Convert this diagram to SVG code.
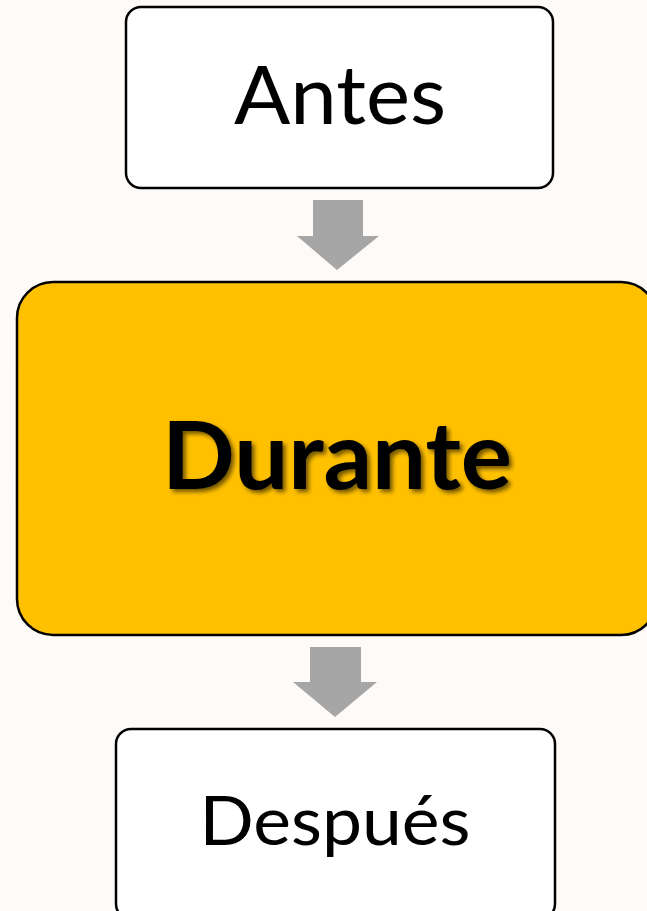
<svg xmlns="http://www.w3.org/2000/svg" width="647" height="911" viewBox="0 0 647 911">
<defs>
<style>
.box{stroke:#000;stroke-width:2.5}
.t{font-family:Lato,"Liberation Sans",sans-serif;fill:#000;text-anchor:middle}
.arr{fill:#a6a6a6}
</style>
<filter id="sh" x="-10%" y="-20%" width="120%" height="140%">
<feGaussianBlur in="SourceAlpha" stdDeviation="2"/>
<feOffset dx="3" dy="3" result="o"/>
<feComponentTransfer><feFuncA type="linear" slope="0.55"/></feComponentTransfer>
<feMerge><feMergeNode/><feMergeNode in="SourceGraphic"/></feMerge>
</filter>
</defs>
<rect width="647" height="911" fill="#fdfaf7"/>
<g id="antes">
<rect class="box" x="126" y="7" width="427" height="181" rx="15" fill="#fff"/>
<text class="t" x="340" y="124" font-size="82" textLength="212" lengthAdjust="spacingAndGlyphs">Antes</text>
</g>
<g id="durante">
<rect class="box" x="17" y="282" width="640" height="353" rx="36" fill="#ffc000"/>
<text class="t" x="337" y="489" font-size="93" font-weight="bold" textLength="350" lengthAdjust="spacingAndGlyphs" filter="url(#sh)">Durante</text>
</g>
<g id="despues">
<rect class="box" x="116" y="729" width="439" height="190" rx="15" fill="#fff"/>
<text class="t" x="335" y="845" font-size="68" textLength="271" lengthAdjust="spacingAndGlyphs">Después</text>
</g>
<g id="connectors">
<polygon class="arr" points="313,200 363,200 363,236 379,236 337,270 297,236 313,236"/>
<polygon class="arr" points="310,647 361,647 361,682 377,682 335,717 293,682 310,682"/>
</g>
</svg>
